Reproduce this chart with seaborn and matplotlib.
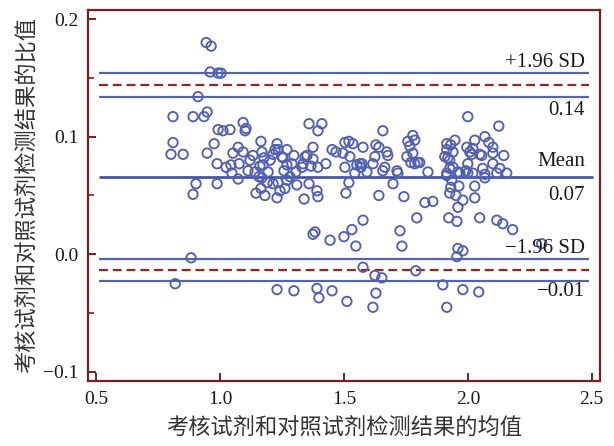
import numpy as np
import pandas as pd
import matplotlib
matplotlib.use('Agg')
import matplotlib.pyplot as plt
from matplotlib.ticker import MultipleLocator
import seaborn as sns

# ── Data ─────────────────────────────────────────────────────────────────────
mean_x = [
    0.944, 0.964, 0.960, 0.992, 1.004, 0.911, 0.810, 0.891, 0.935, 0.948,
    0.992, 1.012, 1.040, 1.093, 1.105, 1.101, 0.810, 0.802, 0.851, 0.948,
    0.976, 0.988, 1.024, 1.044, 1.048, 1.077, 1.052, 1.073, 1.093, 1.133,
    1.165, 1.169, 1.177, 1.161, 1.173, 1.214, 1.230, 1.234, 1.250, 1.270,
    1.298, 1.270, 1.290, 1.331, 1.351, 1.359, 1.411, 1.395, 1.375, 1.367,
    1.395, 1.427, 1.452, 1.468, 1.496, 1.504, 1.520, 1.536, 1.524, 1.504,
    1.544, 1.552,
    0.903, 0.891, 0.988, 1.073, 1.157, 1.165, 1.145, 1.181, 1.190, 1.214,
    1.234, 1.242, 1.262, 1.270, 1.230, 1.310, 1.339, 1.359, 1.391, 1.395,
    1.508, 1.520,
    1.113, 1.141, 1.194, 1.202, 1.121, 1.258, 1.306, 1.282, 1.169,
    2.000, 2.125, 1.657, 1.778, 1.786, 1.758, 1.766, 1.778, 1.770, 1.798,
    1.948, 1.915, 1.931, 1.940, 1.915, 1.907, 1.927, 1.996, 2.028, 2.020,
    2.016, 2.048, 2.069, 2.085, 2.101, 2.101, 2.145, 2.101, 2.129, 2.157,
    2.060, 2.000, 1.992, 1.960, 1.927, 1.915, 2.020, 1.940, 1.839, 1.786,
    1.718, 1.677, 1.641, 1.629, 1.577, 1.573, 1.569, 1.617, 1.625, 1.657,
    1.593, 1.335, 1.375,
    1.641, 1.742, 1.698, 1.915, 1.935, 1.964, 2.028, 1.931, 1.927, 1.952,
    1.980, 2.028, 1.960, 1.827, 1.859, 1.794, 1.923, 1.956, 2.048, 2.117,
    2.141, 2.181, 1.960, 1.980, 1.956, 1.968, 2.000, 2.069, 2.117, 2.069,
    2.298,
    1.577, 1.383, 1.375, 1.444, 1.500, 1.532, 1.548, 1.726, 1.734, 0.883,
    0.819, 1.230, 1.298, 1.391, 1.399, 1.452, 1.512, 1.577, 1.625, 1.653,
    1.629, 1.617, 1.790, 1.899, 1.980, 2.044, 1.915,
    1.222, 1.254, 1.343, 1.673, 1.565, 1.665, 1.714, 1.754, 1.806, 1.919,
    2.056, 2.008,
]
ratio_y = [
    0.180, 0.177, 0.155, 0.154, 0.154, 0.134, 0.117, 0.117, 0.117, 0.121,
    0.106, 0.105, 0.106, 0.112, 0.107, 0.105, 0.095, 0.085, 0.085, 0.086,
    0.094, 0.077, 0.074, 0.076, 0.069, 0.077, 0.086, 0.091, 0.087, 0.084,
    0.096, 0.087, 0.082, 0.075, 0.076, 0.085, 0.094, 0.089, 0.083, 0.089,
    0.084, 0.076, 0.077, 0.074, 0.084, 0.111, 0.111, 0.105, 0.091, 0.075,
    0.074, 0.077, 0.089, 0.087, 0.086, 0.095, 0.096, 0.094, 0.083, 0.074,
    0.069, 0.076,
    0.060, 0.051, 0.060, 0.064, 0.066, 0.056, 0.052, 0.050, 0.061, 0.060,
    0.061, 0.054, 0.056, 0.063, 0.048, 0.059, 0.047, 0.060, 0.054, 0.049,
    0.052, 0.061,
    0.071, 0.070, 0.070, 0.080, 0.080, 0.071, 0.070, 0.066, 0.065,
    0.117, 0.109, 0.105, 0.101, 0.097, 0.096, 0.092, 0.086, 0.078, 0.078,
    0.097, 0.094, 0.093, 0.087, 0.089, 0.083, 0.080, 0.091, 0.097, 0.090,
    0.085, 0.085, 0.100, 0.095, 0.091, 0.086, 0.084, 0.077, 0.073, 0.069,
    0.073, 0.077, 0.071, 0.070, 0.073, 0.069, 0.069, 0.074, 0.070, 0.077,
    0.069, 0.084, 0.091, 0.093, 0.091, 0.077, 0.074, 0.077, 0.083, 0.071,
    0.070, 0.077, 0.081,
    0.050, 0.049, 0.060, 0.067, 0.063, 0.058, 0.058, 0.057, 0.052, 0.050,
    0.046, 0.048, 0.040, 0.044, 0.045, 0.031, 0.031, 0.028, 0.031, 0.029,
    0.026, 0.021, 0.005, 0.003, -0.002, 0.069, 0.069, 0.068, 0.069, 0.065,
    0.009,
    0.029, 0.019, 0.017, 0.012, 0.015, 0.021, 0.007, 0.020, 0.007, -0.003,
    -0.025, -0.030, -0.031, -0.029, -0.037, -0.031, -0.040, -0.011, -0.018, -0.020,
    -0.033, -0.045, -0.014, -0.026, -0.030, -0.032, -0.045,
    0.089, 0.082, 0.083, 0.087, 0.077, 0.074, 0.071, 0.083, 0.078, 0.082,
    0.084, 0.087,
]

bias      = 0.066
upper_loa = 0.144
upper_ci  = [0.134, 0.154]
lower_loa = -0.013
lower_ci  = [-0.023, -0.004]
line_labels = ["+1.96 SD", "0.14", "Mean", "0.07", "\u22121.96 SD", "\u22120.01"]

df = pd.DataFrame({"x": mean_x, "y": ratio_y})

# ── Style ────────────────────────────────────────────────────────────────────
sns.set_style("ticks")
plt.rcParams['font.family'] = ['Liberation Serif', 'Noto Sans CJK SC', 'DejaVu Sans']
RED  = '#7d1d1d'
BLUE = '#5663b3'

fig = plt.figure(figsize=(6.14, 4.46), dpi=100)
ax = fig.add_axes([0.1433, 0.1457, 0.8337, 0.8320])

sns.scatterplot(data=df, x="x", y="y", ax=ax, marker='o', s=46,
                facecolor='none', edgecolor='#5260b0', linewidth=1.35,
                legend=False, zorder=3)

x0, x1 = 0.51, 2.49
for yv in upper_ci + lower_ci:
    ax.hlines(yv, x0, x1, color=BLUE, linewidth=1.6, zorder=2)
for yv in [upper_loa, lower_loa]:
    ax.hlines(yv, x0, x1, color='#9a2424', linewidth=1.6,
              linestyles=(0, (4, 2.2)), zorder=2)
ax.hlines(bias, x0, 2.505, color='#3f4d9f', linewidth=1.9, zorder=2)

tx = 2.472
ann_y = [0.163, 0.1225, 0.079, 0.050, 0.005, -0.032]
for lab, yv in zip(line_labels, ann_y):
    ax.text(tx, yv, lab, ha='right', va='center', fontsize=15,
            color='#1a1a1a', zorder=4)

ax.set_xlim(0.467, 2.533)
ax.set_ylim(-0.1077, 0.2077)
ax.set_xticks([0.5, 1.0, 1.5, 2.0, 2.5])
ax.set_xticklabels(["0.5", "1.0", "1.5", "2.0", "2.5"])
ax.set_yticks([-0.1, 0.0, 0.1, 0.2])
ax.set_yticklabels(["\u22120.1", "0.0", "0.1", "0.2"])
ax.yaxis.set_minor_locator(MultipleLocator(0.05))

for sp in ax.spines.values():
    sp.set_visible(True)
    sp.set_color(RED)
    sp.set_linewidth(1.6)
ax.tick_params(axis='both', which='major', direction='in', length=6,
               width=1.4, color=RED, labelsize=14, labelcolor='#1a1a1a', pad=7,
               bottom=True, left=True, top=False, right=False)
ax.tick_params(axis='y', which='minor', direction='in', length=4.5,
               width=1.2, color=RED, left=True, right=False)

ax.set_xlabel("考核试剂和对照试剂检测结果的均值", fontsize=16,
              family=['Noto Sans CJK SC', 'DejaVu Sans'], color='#333333', labelpad=6)
ax.set_ylabel("考核试剂和对照试剂检测结果的比值", fontsize=16,
              family=['Noto Sans CJK SC', 'DejaVu Sans'], color='#333333', labelpad=4)

plt.savefig("out.png", dpi=100)
plt.close()
